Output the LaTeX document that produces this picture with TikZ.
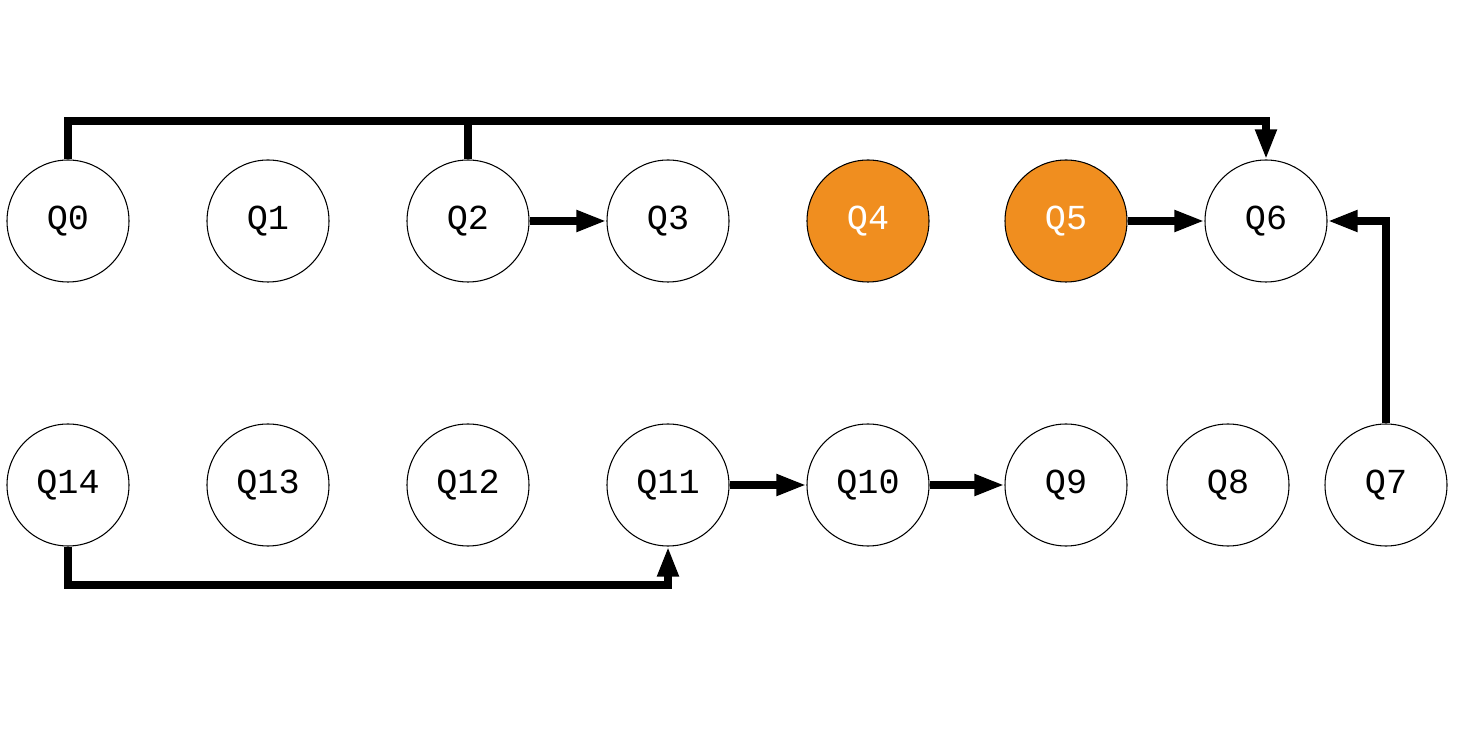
\documentclass[tikz,border=0pt]{standalone}
\usepackage{fontspec}
\setmonofont{Liberation Mono}
\usetikzlibrary{arrows.meta}
\definecolor{qorange}{HTML}{F08E1F}
\begin{document}
\begin{tikzpicture}[
    qubit/.style={circle,draw=black,line width=.3pt,minimum size=1.22cm,inner sep=0pt,font=\ttfamily\fontsize{10}{12}\selectfont},
    busy/.style={qubit,fill=qorange,text=white},
    link/.style={line width=2.1pt,-{Triangle[length=.3cm,width=.2cm]}}
]
    \useasboundingbox (0,0) rectangle (14.6,7.3);

    % Top row
    \foreach \i/\x in {0/0.68,1/2.68,2/4.68,3/6.68,6/12.66}
        \node[qubit] (Q\i) at (\x,5.09) {Q\i};
    \node[busy] (Q4) at (8.68,5.09) {Q4};
    \node[busy] (Q5) at (10.66,5.09) {Q5};

    % Bottom row
    \foreach \i/\x in {14/0.68,13/2.68,12/4.68,11/6.68,10/8.68,9/10.66,8/12.28,7/13.86}
        \node[qubit] (Q\i) at (\x,2.45) {Q\i};

    \coordinate (top) at (0,6.09);
    \coordinate (bottom) at (0,1.45);

    % Connections
    \draw[link] (Q0.north) -- (Q0.north |- top) -| (Q6.north);
    \draw[line width=2.1pt] (Q2.north) -- (Q2.north |- top);
    \draw[link] (Q2) -- (Q3);
    \draw[link] (Q5) -- (Q6);
    \draw[link] (Q7.north) |- (Q6.east);
    \draw[link] (Q11) -- (Q10);
    \draw[link] (Q10) -- (Q9);
    \draw[link] (Q14.south) -- (Q14.south |- bottom) -| (Q11.south);
\end{tikzpicture}
\end{document}
